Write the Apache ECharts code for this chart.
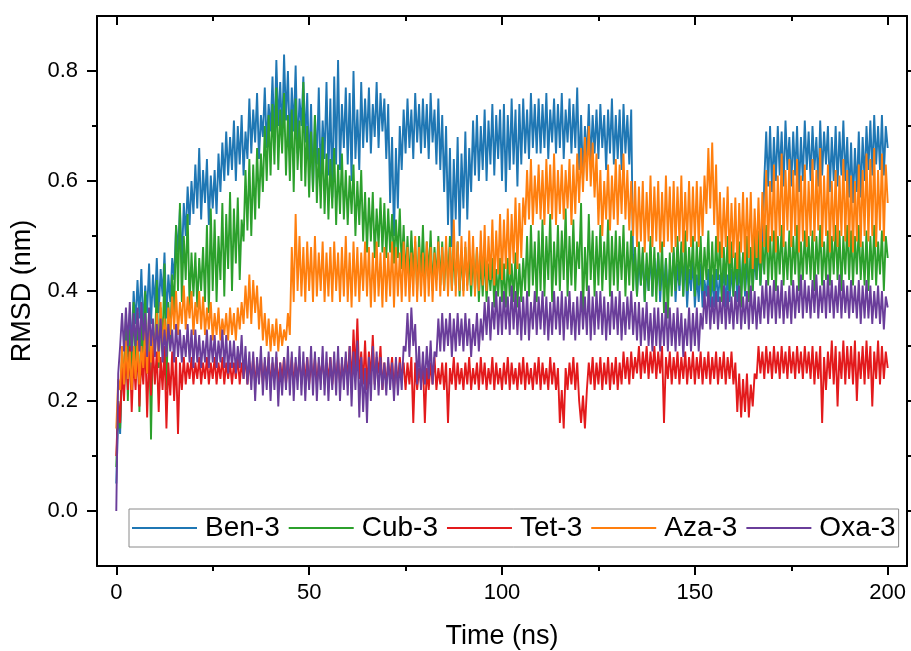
<!DOCTYPE html>
<html>
<head>
<meta charset="utf-8">
<script src="https://cdn.jsdelivr.net/npm/echarts@6/dist/echarts.min.js"></script>
<style>
  html, body { margin: 0; padding: 0; background: #fff; }
  #chart { width: 911px; height: 651px; }
</style>
</head>
<body>
<div id="chart"></div>
<script>
// RMSD trajectories sampled every 0.5 ns, 0-200 ns (nm)
const STEP_NS = 0.5;

const seriesNames = ['Ben-3', 'Cub-3', 'Tet-3', 'Aza-3', 'Oxa-3'];
const xMajorTicks = [0, 50, 100, 150, 200];
const xMinorTicks = [25, 75, 125, 175];
const yMajorTicks = [0, 0.2, 0.4, 0.6, 0.8];
const yMinorTicks = [0.1, 0.3, 0.5, 0.7];

const ben3 = [
  0.05,0.18,0.14,0.27,0.22,0.33,0.28,0.36,0.30,0.40,
  0.34,0.42,0.35,0.44,0.33,0.41,0.36,0.45,0.34,0.43,
  0.37,0.46,0.36,0.44,0.39,0.47,0.35,0.43,0.38,0.46,
  0.42,0.52,0.47,0.55,0.45,0.56,0.50,0.59,0.52,0.60,
  0.54,0.63,0.55,0.66,0.53,0.62,0.56,0.64,0.52,0.61,
  0.55,0.62,0.54,0.65,0.58,0.67,0.60,0.69,0.61,0.68,
  0.62,0.71,0.60,0.70,0.63,0.72,0.61,0.69,0.64,0.75,
  0.65,0.73,0.67,0.76,0.64,0.72,0.68,0.77,0.66,0.74,
  0.69,0.79,0.67,0.82,0.70,0.78,0.68,0.83,0.71,0.80,
  0.66,0.77,0.69,0.81,0.65,0.75,0.70,0.79,0.67,0.76,
  0.62,0.74,0.58,0.72,0.63,0.77,0.60,0.71,0.64,0.78,
  0.61,0.75,0.57,0.79,0.63,0.82,0.62,0.74,0.66,0.77,
  0.63,0.76,0.60,0.80,0.64,0.73,0.62,0.78,0.66,0.75,
  0.67,0.77,0.65,0.74,0.68,0.78,0.66,0.76,0.69,0.75,
  0.64,0.74,0.56,0.68,0.50,0.66,0.55,0.70,0.62,0.73,
  0.65,0.75,0.66,0.73,0.64,0.76,0.67,0.74,0.65,0.75,
  0.66,0.74,0.64,0.76,0.67,0.73,0.63,0.75,0.62,0.72,
  0.58,0.70,0.52,0.66,0.48,0.64,0.53,0.68,0.50,0.65,
  0.55,0.69,0.53,0.66,0.58,0.71,0.61,0.72,0.60,0.70,
  0.62,0.73,0.60,0.71,0.63,0.74,0.61,0.72,0.64,0.73,
  0.60,0.74,0.58,0.72,0.62,0.75,0.63,0.73,0.59,0.74,
  0.63,0.75,0.65,0.73,0.64,0.76,0.66,0.74,0.65,0.75,
  0.65,0.74,0.66,0.76,0.64,0.73,0.67,0.75,0.65,0.74,
  0.66,0.76,0.64,0.73,0.67,0.75,0.65,0.74,0.66,0.77,
  0.62,0.72,0.60,0.70,0.64,0.74,0.63,0.72,0.65,0.73,
  0.64,0.74,0.66,0.72,0.62,0.73,0.65,0.75,0.63,0.72,
  0.64,0.73,0.62,0.74,0.65,0.72,0.63,0.73,0.44,0.47,
  0.39,0.46,0.41,0.47,0.38,0.45,0.40,0.47,0.39,0.46,
  0.41,0.47,0.38,0.45,0.40,0.46,0.39,0.44,0.41,0.47,
  0.38,0.45,0.40,0.47,0.39,0.46,0.37,0.44,0.40,0.46,
  0.37,0.43,0.38,0.45,0.37,0.42,0.39,0.44,0.37,0.43,
  0.37,0.44,0.38,0.43,0.39,0.45,0.37,0.43,0.38,0.44,
  0.39,0.46,0.38,0.44,0.40,0.47,0.39,0.45,0.41,0.47,
  0.40,0.46,0.42,0.48,0.41,0.47,0.60,0.69,0.59,0.70,
  0.58,0.68,0.60,0.70,0.61,0.69,0.59,0.71,0.62,0.68,
  0.59,0.69,0.61,0.70,0.58,0.68,0.60,0.71,0.62,0.69,
  0.60,0.70,0.62,0.68,0.59,0.71,0.61,0.69,0.63,0.70,
  0.58,0.68,0.60,0.70,0.59,0.69,0.61,0.71,0.60,0.68,
  0.57,0.67,0.56,0.66,0.58,0.69,0.57,0.68,0.60,0.70,
  0.62,0.71,0.61,0.72,0.63,0.70,0.62,0.72,0.61,0.70,
  0.66
];

const cub3 = [
  0.08,0.20,0.15,0.30,0.22,0.36,0.20,0.33,0.24,0.38,
  0.27,0.36,0.18,0.34,0.28,0.40,0.25,0.35,0.13,0.33,
  0.29,0.42,0.26,0.37,0.30,0.45,0.22,0.38,0.31,0.43,
  0.36,0.52,0.40,0.56,0.38,0.50,0.42,0.54,0.37,0.47,
  0.39,0.47,0.37,0.46,0.40,0.48,0.38,0.52,0.36,0.55,
  0.40,0.53,0.38,0.50,0.42,0.56,0.39,0.54,0.44,0.58,
  0.40,0.55,0.45,0.57,0.42,0.53,0.49,0.62,0.51,0.64,
  0.50,0.63,0.53,0.66,0.55,0.65,0.58,0.70,0.60,0.72,
  0.61,0.74,0.63,0.77,0.62,0.73,0.65,0.76,0.61,0.72,
  0.60,0.73,0.58,0.75,0.62,0.71,0.60,0.78,0.59,0.70,
  0.57,0.69,0.58,0.72,0.56,0.66,0.55,0.68,0.54,0.65,
  0.53,0.64,0.55,0.66,0.52,0.63,0.54,0.65,0.53,0.62,
  0.52,0.61,0.54,0.63,0.50,0.60,0.52,0.62,0.49,0.58,
  0.47,0.57,0.49,0.58,0.46,0.55,0.48,0.57,0.47,0.56,
  0.46,0.55,0.47,0.54,0.45,0.53,0.46,0.55,0.44,0.52,
  0.42,0.50,0.41,0.51,0.43,0.49,0.40,0.50,0.42,0.52,
  0.41,0.49,0.43,0.51,0.40,0.48,0.42,0.50,0.41,0.49,
  0.40,0.48,0.42,0.50,0.40,0.47,0.41,0.49,0.39,0.47,
  0.40,0.48,0.41,0.46,0.39,0.47,0.40,0.48,0.38,0.46,
  0.39,0.47,0.38,0.45,0.40,0.46,0.37,0.44,0.39,0.46,
  0.38,0.45,0.37,0.46,0.39,0.45,0.38,0.47,0.37,0.45,
  0.38,0.46,0.40,0.50,0.39,0.52,0.41,0.49,0.38,0.51,
  0.40,0.53,0.39,0.50,0.42,0.54,0.38,0.49,0.41,0.52,
  0.40,0.51,0.42,0.55,0.39,0.50,0.41,0.53,0.40,0.49,
  0.44,0.56,0.36,0.48,0.40,0.54,0.42,0.51,0.39,0.50,
  0.41,0.52,0.40,0.49,0.42,0.53,0.39,0.50,0.41,0.51,
  0.40,0.50,0.42,0.52,0.39,0.49,0.41,0.51,0.40,0.48,
  0.39,0.49,0.41,0.48,0.38,0.47,0.40,0.50,0.39,0.48,
  0.38,0.47,0.40,0.49,0.36,0.46,0.35,0.47,0.39,0.48,
  0.40,0.50,0.41,0.49,0.39,0.51,0.40,0.48,0.42,0.50,
  0.39,0.49,0.41,0.50,0.40,0.48,0.42,0.51,0.39,0.49,
  0.40,0.50,0.42,0.49,0.38,0.48,0.41,0.50,0.40,0.49,
  0.39,0.47,0.41,0.49,0.37,0.47,0.40,0.50,0.38,0.48,
  0.40,0.50,0.42,0.51,0.41,0.49,0.43,0.52,0.41,0.50,
  0.42,0.51,0.40,0.50,0.43,0.52,0.41,0.49,0.42,0.51,
  0.41,0.50,0.43,0.52,0.40,0.49,0.42,0.51,0.43,0.50,
  0.42,0.51,0.40,0.50,0.43,0.52,0.41,0.49,0.42,0.51,
  0.41,0.50,0.43,0.52,0.42,0.51,0.40,0.50,0.43,0.52,
  0.42,0.51,0.41,0.50,0.43,0.52,0.42,0.49,0.41,0.51,
  0.40,0.50,0.42,0.52,0.41,0.49,0.43,0.51,0.40,0.50,
  0.46
];

const tet3 = [
  0.10,0.20,0.16,0.26,0.20,0.29,0.22,0.30,0.18,0.28,
  0.22,0.30,0.19,0.28,0.23,0.31,0.17,0.29,0.21,0.30,
  0.23,0.29,0.18,0.28,0.22,0.30,0.15,0.27,0.21,0.29,
  0.20,0.28,0.14,0.27,0.22,0.28,0.23,0.27,0.24,0.28,
  0.23,0.27,0.24,0.28,0.23,0.27,0.24,0.28,0.23,0.27,
  0.24,0.28,0.23,0.27,0.24,0.28,0.23,0.27,0.24,0.27,
  0.23,0.27,0.24,0.28,0.23,0.27,0.24,0.28,0.23,0.27,
  0.24,0.28,0.23,0.27,0.24,0.28,0.23,0.27,0.24,0.28,
  0.23,0.27,0.24,0.28,0.23,0.27,0.24,0.28,0.23,0.27,
  0.24,0.28,0.23,0.27,0.24,0.28,0.23,0.27,0.24,0.28,
  0.23,0.27,0.24,0.28,0.23,0.27,0.24,0.28,0.23,0.27,
  0.24,0.28,0.23,0.27,0.24,0.28,0.23,0.27,0.24,0.28,
  0.24,0.30,0.23,0.33,0.25,0.35,0.24,0.29,0.23,0.31,
  0.22,0.29,0.24,0.32,0.23,0.28,0.25,0.30,0.22,0.27,
  0.23,0.27,0.24,0.28,0.22,0.27,0.23,0.28,0.24,0.27,
  0.22,0.27,0.23,0.28,0.16,0.27,0.22,0.26,0.23,0.27,
  0.16,0.26,0.22,0.27,0.23,0.28,0.22,0.26,0.23,0.27,
  0.22,0.27,0.16,0.26,0.23,0.28,0.22,0.27,0.23,0.26,
  0.22,0.27,0.23,0.28,0.22,0.26,0.23,0.27,0.22,0.28,
  0.23,0.27,0.22,0.26,0.23,0.28,0.22,0.27,0.23,0.26,
  0.22,0.27,0.23,0.28,0.22,0.27,0.23,0.26,0.22,0.27,
  0.23,0.28,0.22,0.27,0.23,0.26,0.22,0.27,0.23,0.28,
  0.22,0.27,0.23,0.26,0.22,0.28,0.23,0.27,0.22,0.26,
  0.16,0.22,0.15,0.26,0.22,0.27,0.23,0.28,0.22,0.27,
  0.20,0.16,0.21,0.15,0.22,0.27,0.23,0.28,0.22,0.27,
  0.23,0.28,0.22,0.27,0.23,0.28,0.22,0.27,0.23,0.28,
  0.22,0.27,0.23,0.29,0.24,0.28,0.23,0.29,0.24,0.28,
  0.25,0.30,0.24,0.29,0.25,0.30,0.24,0.29,0.25,0.30,
  0.24,0.29,0.25,0.30,0.16,0.28,0.24,0.29,0.23,0.28,
  0.24,0.29,0.23,0.28,0.24,0.29,0.23,0.28,0.24,0.29,
  0.23,0.28,0.24,0.29,0.23,0.28,0.24,0.29,0.23,0.28,
  0.24,0.29,0.23,0.28,0.24,0.29,0.23,0.28,0.24,0.29,
  0.23,0.27,0.18,0.25,0.17,0.24,0.18,0.25,0.17,0.23,
  0.19,0.25,0.24,0.30,0.25,0.29,0.24,0.30,0.25,0.29,
  0.24,0.30,0.25,0.29,0.24,0.30,0.25,0.29,0.24,0.30,
  0.25,0.29,0.24,0.30,0.25,0.29,0.24,0.30,0.25,0.29,
  0.24,0.30,0.23,0.29,0.24,0.30,0.16,0.28,0.22,0.29,
  0.24,0.31,0.23,0.30,0.19,0.29,0.24,0.31,0.23,0.30,
  0.24,0.30,0.23,0.31,0.20,0.29,0.24,0.30,0.23,0.31,
  0.24,0.30,0.19,0.29,0.24,0.31,0.23,0.30,0.24,0.29,
  0.26
];

const aza3 = [
  0.15,0.24,0.22,0.30,0.23,0.31,0.24,0.29,0.22,0.30,
  0.24,0.31,0.23,0.30,0.26,0.34,0.25,0.36,0.27,0.33,
  0.28,0.36,0.27,0.38,0.29,0.35,0.30,0.37,0.32,0.39,
  0.33,0.40,0.32,0.38,0.34,0.41,0.33,0.39,0.35,0.40,
  0.32,0.38,0.34,0.40,0.33,0.39,0.32,0.37,0.33,0.38,
  0.31,0.36,0.32,0.37,0.31,0.35,0.32,0.36,0.31,0.37,
  0.32,0.36,0.31,0.37,0.33,0.38,0.34,0.41,0.35,0.43,
  0.34,0.42,0.36,0.41,0.33,0.39,0.31,0.36,0.30,0.35,
  0.29,0.34,0.30,0.35,0.29,0.34,0.30,0.33,0.31,0.36,
  0.32,0.48,0.38,0.54,0.40,0.50,0.39,0.48,0.38,0.49,
  0.40,0.48,0.38,0.50,0.39,0.47,0.40,0.49,0.38,0.47,
  0.39,0.48,0.38,0.49,0.40,0.47,0.38,0.48,0.39,0.50,
  0.38,0.47,0.37,0.49,0.39,0.48,0.38,0.47,0.40,0.49,
  0.39,0.48,0.37,0.47,0.38,0.49,0.39,0.47,0.37,0.48,
  0.38,0.47,0.39,0.49,0.37,0.48,0.39,0.47,0.38,0.49,
  0.39,0.48,0.38,0.47,0.39,0.50,0.38,0.48,0.39,0.47,
  0.38,0.49,0.39,0.48,0.38,0.47,0.40,0.49,0.39,0.48,
  0.40,0.50,0.39,0.48,0.40,0.53,0.39,0.49,0.40,0.50,
  0.39,0.49,0.40,0.51,0.41,0.50,0.39,0.48,0.40,0.51,
  0.41,0.52,0.40,0.50,0.42,0.53,0.41,0.51,0.43,0.54,
  0.42,0.53,0.44,0.55,0.43,0.54,0.45,0.57,0.44,0.56,
  0.46,0.57,0.52,0.62,0.53,0.64,0.52,0.61,0.54,0.63,
  0.53,0.62,0.52,0.64,0.54,0.63,0.53,0.65,0.52,0.62,
  0.54,0.63,0.53,0.62,0.55,0.64,0.52,0.63,0.54,0.65,
  0.56,0.66,0.58,0.68,0.60,0.70,0.59,0.67,0.57,0.65,
  0.52,0.62,0.50,0.60,0.53,0.63,0.51,0.61,0.53,0.64,
  0.52,0.63,0.54,0.65,0.53,0.62,0.51,0.60,0.50,0.60,
  0.48,0.59,0.49,0.60,0.47,0.58,0.49,0.61,0.48,0.59,
  0.49,0.60,0.47,0.58,0.48,0.61,0.49,0.59,0.47,0.60,
  0.48,0.59,0.49,0.61,0.47,0.58,0.49,0.60,0.48,0.59,
  0.49,0.60,0.48,0.59,0.50,0.61,0.54,0.66,0.55,0.67,
  0.52,0.63,0.47,0.58,0.46,0.57,0.48,0.59,0.45,0.56,
  0.46,0.57,0.44,0.56,0.47,0.58,0.45,0.57,0.46,0.58,
  0.44,0.55,0.46,0.57,0.45,0.58,0.48,0.62,0.47,0.60,
  0.49,0.63,0.47,0.61,0.50,0.65,0.48,0.62,0.51,0.64,
  0.48,0.62,0.50,0.64,0.47,0.61,0.49,0.63,0.48,0.60,
  0.50,0.64,0.49,0.62,0.51,0.66,0.48,0.61,0.50,0.63,
  0.47,0.60,0.49,0.62,0.48,0.61,0.50,0.64,0.49,0.62,
  0.48,0.61,0.47,0.60,0.49,0.63,0.48,0.62,0.50,0.65,
  0.49,0.64,0.50,0.66,0.48,0.62,0.51,0.65,0.49,0.63,
  0.56
];

const oxa3 = [
  0.00,0.25,0.30,0.36,0.29,0.37,0.30,0.38,0.29,0.36,
  0.30,0.37,0.29,0.38,0.31,0.36,0.28,0.37,0.30,0.35,
  0.28,0.34,0.29,0.35,0.27,0.33,0.28,0.34,0.29,0.33,
  0.27,0.34,0.28,0.33,0.27,0.32,0.28,0.34,0.27,0.33,
  0.26,0.33,0.27,0.32,0.26,0.31,0.27,0.33,0.26,0.32,
  0.27,0.32,0.26,0.31,0.27,0.33,0.26,0.32,0.25,0.31,
  0.26,0.31,0.25,0.30,0.26,0.32,0.24,0.30,0.23,0.29,
  0.22,0.29,0.20,0.28,0.23,0.30,0.21,0.28,0.22,0.29,
  0.20,0.28,0.22,0.29,0.19,0.27,0.21,0.28,0.22,0.30,
  0.21,0.29,0.20,0.28,0.22,0.30,0.21,0.29,0.20,0.28,
  0.22,0.30,0.21,0.29,0.20,0.28,0.22,0.30,0.21,0.29,
  0.20,0.28,0.22,0.29,0.21,0.30,0.20,0.28,0.22,0.29,
  0.21,0.30,0.19,0.29,0.22,0.31,0.17,0.28,0.18,0.26,
  0.16,0.28,0.20,0.30,0.22,0.29,0.21,0.28,0.22,0.27,
  0.21,0.28,0.22,0.27,0.20,0.28,0.21,0.27,0.22,0.30,
  0.29,0.36,0.28,0.37,0.30,0.34,0.23,0.30,0.22,0.29,
  0.23,0.30,0.24,0.31,0.23,0.29,0.28,0.35,0.29,0.36,
  0.29,0.35,0.30,0.36,0.28,0.35,0.29,0.36,0.30,0.35,
  0.29,0.36,0.30,0.35,0.28,0.34,0.30,0.36,0.29,0.35,
  0.31,0.38,0.32,0.39,0.31,0.38,0.33,0.40,0.32,0.39,
  0.32,0.40,0.33,0.39,0.32,0.41,0.33,0.40,0.32,0.39,
  0.31,0.39,0.32,0.40,0.31,0.38,0.33,0.40,0.32,0.39,
  0.33,0.40,0.32,0.39,0.31,0.38,0.32,0.40,0.33,0.39,
  0.32,0.40,0.31,0.39,0.33,0.40,0.32,0.38,0.31,0.39,
  0.32,0.40,0.33,0.39,0.32,0.41,0.31,0.39,0.32,0.40,
  0.33,0.40,0.32,0.39,0.31,0.38,0.32,0.40,0.33,0.39,
  0.32,0.40,0.31,0.38,0.32,0.39,0.33,0.40,0.32,0.38,
  0.31,0.38,0.30,0.37,0.31,0.38,0.30,0.36,0.29,0.37,
  0.30,0.37,0.29,0.36,0.30,0.38,0.29,0.37,0.30,0.36,
  0.29,0.37,0.30,0.36,0.28,0.35,0.30,0.37,0.29,0.36,
  0.30,0.37,0.29,0.36,0.33,0.40,0.34,0.41,0.33,0.39,
  0.34,0.40,0.33,0.39,0.34,0.41,0.33,0.40,0.34,0.39,
  0.33,0.40,0.34,0.41,0.33,0.39,0.34,0.40,0.33,0.41,
  0.34,0.40,0.33,0.39,0.34,0.41,0.35,0.42,0.34,0.41,
  0.35,0.42,0.34,0.41,0.35,0.42,0.34,0.40,0.35,0.41,
  0.34,0.42,0.35,0.41,0.36,0.43,0.35,0.42,0.36,0.41,
  0.35,0.42,0.36,0.43,0.35,0.41,0.36,0.42,0.35,0.43,
  0.36,0.42,0.35,0.41,0.36,0.43,0.35,0.42,0.36,0.41,
  0.35,0.42,0.36,0.41,0.35,0.42,0.34,0.41,0.35,0.42,
  0.35,0.41,0.34,0.40,0.35,0.41,0.34,0.40,0.33,0.39,
  0.37
];

const seriesValues = [ben3, cub3, tet3, aza3, oxa3];
const seriesColors = ['#1f77b4', '#2ca02c', '#e31a1c', '#ff7f0e', '#6a3d9a'];

const FONT = '"Liberation Sans", Arial, Helvetica, sans-serif';

const chart = echarts.init(document.getElementById('chart'), null, { renderer: 'canvas' });

const toPoints = values => values.map((v, i) => [i * STEP_NS, v]);

const blackLine = { show: true, onZero: false, lineStyle: { color: '#000', width: 2 } };
const hiddenLine = { show: false, onZero: false };
const tickStyle = { color: '#000', width: 2 };

const option = {
  backgroundColor: '#fff',
  animation: false,
  grid: { left: 97, top: 16, width: 810, height: 550, containLabel: false, outerBoundsMode: 'none' },
  legend: {
    data: seriesNames,
    left: 129,
    top: 509,
    orient: 'horizontal',
    icon: 'rect',
    itemWidth: 65,
    itemHeight: 2,
    itemGap: 9,
    padding: [4, 3],
    borderColor: '#8a8a8a',
    borderWidth: 1,
    backgroundColor: '#fff',
    textStyle: { fontFamily: FONT, fontSize: 28, color: '#000', padding: [0, 0, 0, 3], lineHeight: 30 },
    selectedMode: false
  },
  xAxis: [
    {
      type: 'value', position: 'bottom', min: -5, max: 205,
      axisLine: blackLine,
      splitLine: { show: false },
      axisTick: { show: true, inside: false, length: 9, customValues: xMajorTicks, lineStyle: tickStyle },
      axisLabel: { show: true, customValues: xMajorTicks, margin: 16, fontFamily: FONT, fontSize: 22, color: '#000' },
      name: 'Time (ns)', nameLocation: 'middle', nameGap: 57,
      nameTextStyle: { fontFamily: FONT, fontSize: 27, color: '#000' }
    },
    {
      type: 'value', position: 'bottom', min: -5, max: 205,
      axisLine: hiddenLine, splitLine: { show: false },
      axisTick: { show: true, inside: false, length: 5, customValues: xMinorTicks, lineStyle: tickStyle },
      axisLabel: { show: false }
    },
    {
      type: 'value', position: 'top', min: -5, max: 205,
      axisLine: blackLine, splitLine: { show: false },
      axisTick: { show: true, inside: true, length: 9, customValues: xMajorTicks, lineStyle: tickStyle },
      axisLabel: { show: false }
    },
    {
      type: 'value', position: 'top', min: -5, max: 205,
      axisLine: hiddenLine, splitLine: { show: false },
      axisTick: { show: true, inside: true, length: 5, customValues: xMinorTicks, lineStyle: tickStyle },
      axisLabel: { show: false }
    }
  ],
  yAxis: [
    {
      type: 'value', position: 'left', min: -0.1, max: 0.9,
      axisLine: blackLine, splitLine: { show: false },
      axisTick: { show: true, inside: false, length: 10, customValues: yMajorTicks, lineStyle: tickStyle },
      axisLabel: {
        show: true, customValues: yMajorTicks, margin: 19, fontFamily: FONT, fontSize: 22, color: '#000',
        formatter: v => v.toFixed(1)
      },
      name: 'RMSD (nm)', nameLocation: 'middle', nameGap: 58,
      nameTextStyle: { fontFamily: FONT, fontSize: 27, color: '#000' }
    },
    {
      type: 'value', position: 'left', min: -0.1, max: 0.9,
      axisLine: hiddenLine, splitLine: { show: false },
      axisTick: { show: true, inside: false, length: 5, customValues: yMinorTicks, lineStyle: tickStyle },
      axisLabel: { show: false }
    },
    {
      type: 'value', position: 'right', min: -0.1, max: 0.9,
      axisLine: blackLine, splitLine: { show: false },
      axisTick: { show: true, inside: false, length: 8, customValues: yMajorTicks.concat(yMinorTicks), lineStyle: tickStyle },
      axisLabel: { show: false }
    }
  ],
  series: seriesNames.map((name, k) => ({
    name: name,
    type: 'line',
    xAxisIndex: 0,
    yAxisIndex: 0,
    data: toPoints(seriesValues[k]),
    showSymbol: false,
    symbol: 'none',
    sampling: null,
    clip: true,
    color: seriesColors[k],
    lineStyle: { color: seriesColors[k], width: 1.9 },
    emphasis: { disabled: true }
  }))
};

chart.setOption(option);
</script>
</body>
</html>
